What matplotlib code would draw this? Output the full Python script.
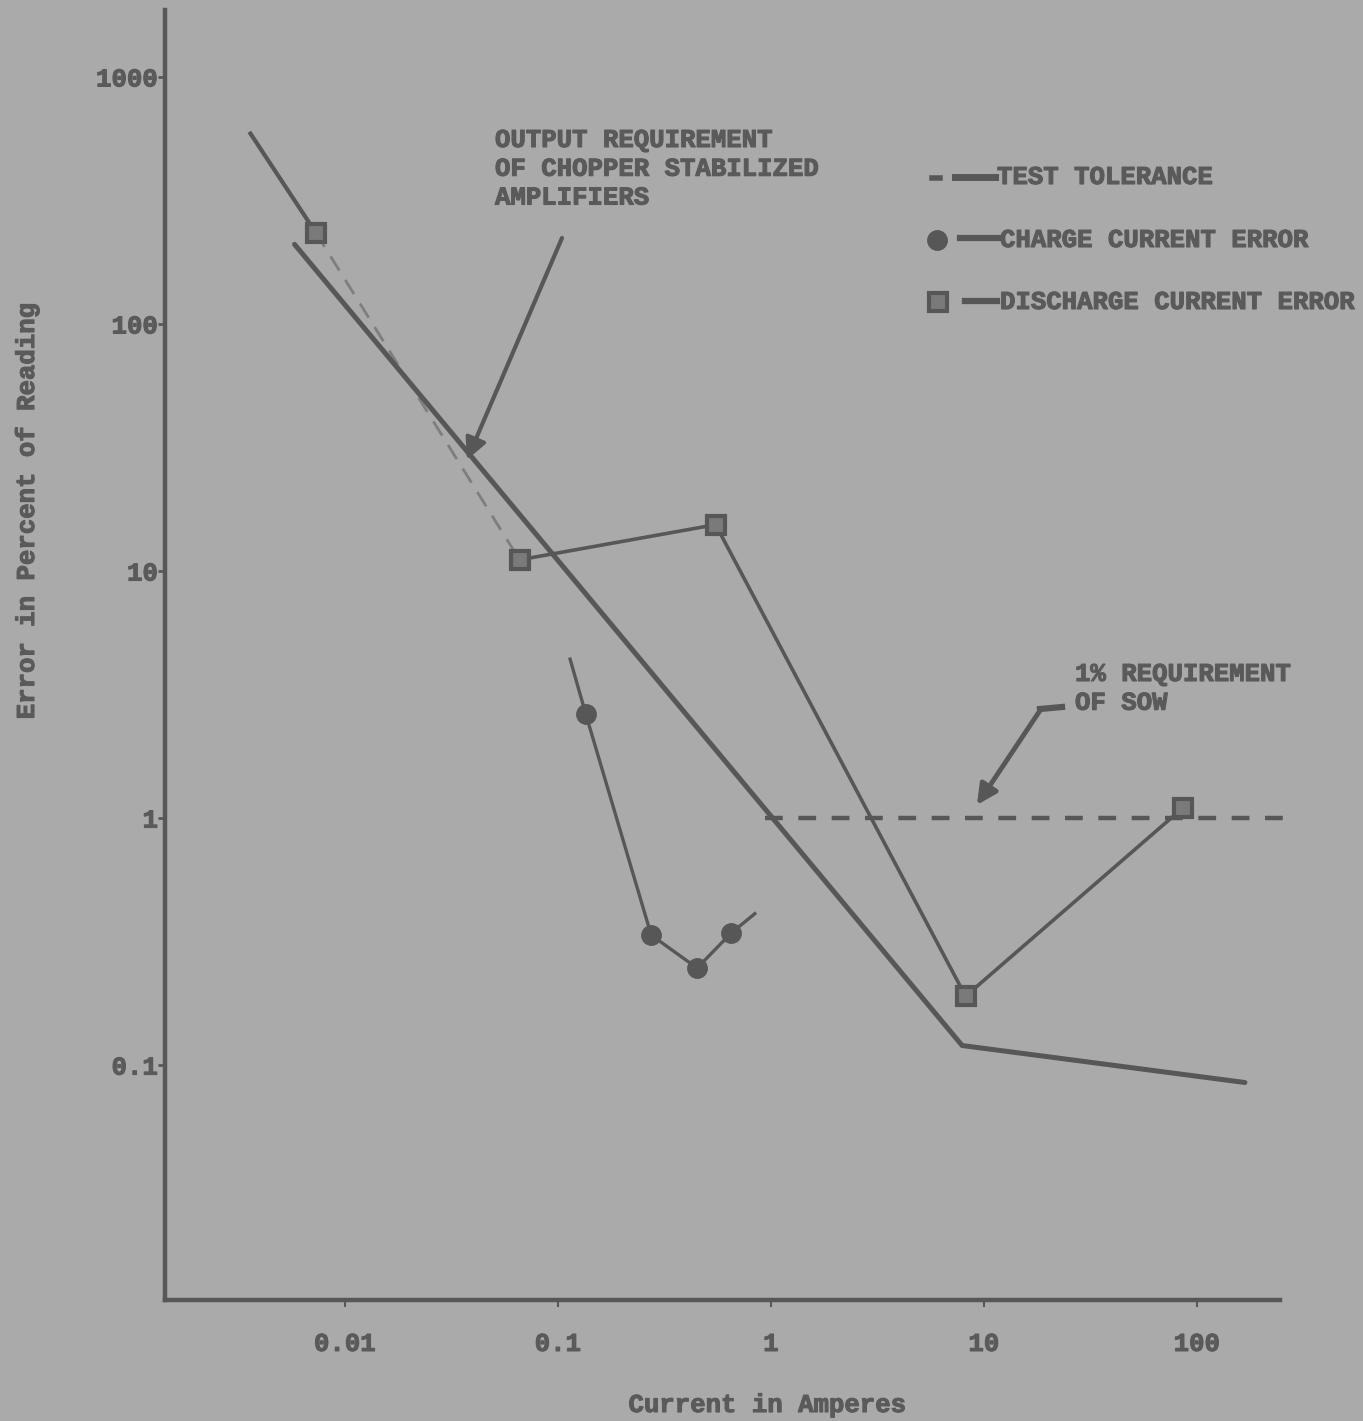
import matplotlib
matplotlib.use("Agg")
import matplotlib.pyplot as plt
from matplotlib.lines import Line2D
import matplotlib.patheffects as pe

# ---------------- data ----------------
tol_current = [0.0058, 7.9, 168]
tol_error = [210, 0.12, 0.085]

sow_current = [0.94, 290]
sow_error = [1.0, 1.0]

dis_current = [0.0036, 0.0073, 0.066, 0.55, 8.2, 86]
dis_error = [590, 234, 11.1, 15.4, 0.19, 1.1]

chg_current = [0.114, 0.135, 0.274, 0.45, 0.65, 0.84]
chg_error = [4.4, 2.64, 0.336, 0.247, 0.342, 0.41]
chg_marked = [1, 2, 3, 4]

x_ticks = [0.01, 0.1, 1, 10, 100]
x_tick_labels = ["0.01", "0.1", "1", "10", "100"]
y_ticks = [0.1, 1, 10, 100, 1000]
y_tick_labels = ["0.1", "1", "10", "100", "1000"]

chopper_arrow_tip = (0.0374, 28.2)
sow_arrow_tip = (9.27, 1.13)

# ---------------- style ----------------
W, H = 1363, 1421
BG = "#aaaaaa"
INK = "#575757"
TXT = "#5a5a5a"
FONT = ["Liberation Mono", "DejaVu Sans Mono"]
FS = 18.5
HEAVY = [pe.withStroke(linewidth=0.8, foreground=TXT)]

def fxp(px):
    return px / W

def fyp(py):
    return 1 - py / H

fig = plt.figure(figsize=(W / 100, H / 100), dpi=100, facecolor=BG)
ax = fig.add_axes([fxp(165), fyp(1300), fxp(1300) - fxp(165), fyp(10) - fyp(1300)])
ax.set_facecolor(BG)
ax.set_xscale("log")
ax.set_yscale("log")
ax.set_xlim(10 ** -2.845, 10 ** 2.484)
ax.set_ylim(10 ** -1.951, 10 ** 3.271)

for s in ["top", "right"]:
    ax.spines[s].set_visible(False)
for s in ["left", "bottom"]:
    ax.spines[s].set_color(INK)
    ax.spines[s].set_linewidth(3.2)
ax.spines["bottom"].set_bounds(10 ** -2.845, 245)

ax.set_xticks(x_ticks)
ax.set_xticklabels(x_tick_labels)
ax.set_yticks(y_ticks)
ax.set_yticklabels(y_tick_labels)
ax.minorticks_off()
ax.tick_params(axis="x", direction="out", length=5, width=1.5, color=INK, pad=18,
               labelsize=FS, labelcolor=TXT)
ax.tick_params(axis="y", direction="out", length=5, width=2, color=INK, pad=0,
               labelsize=FS, labelcolor=TXT)
for lab in ax.get_xticklabels() + ax.get_yticklabels():
    lab.set_family(FONT)
    lab.set_weight("bold")
    lab.set_path_effects(HEAVY)
for lab in ax.get_yticklabels():
    lab.set_va("center_baseline")

# ---------------- series ----------------
ax.plot(tol_current, tol_error, color=INK, lw=3.6, solid_capstyle="round", zorder=3)
ax.plot(sow_current, sow_error, color=INK, lw=3.2, ls=(0, (4, 3.5)), zorder=2)

sq_kw = dict(marker="s", markersize=13, markerfacecolor="#7a7a7a",
             markeredgecolor=INK, markeredgewidth=3)
# discharge: first stretch, faint middle stretch, then the rest
ax.plot(dis_current[0:2], dis_error[0:2], color=INK, lw=3.0, zorder=4)
ax.plot(dis_current[1:3], dis_error[1:3], color="#7e7e7e", lw=2.0,
        ls=(0, (6, 4)), zorder=2)
ax.plot(dis_current[2:], dis_error[2:], color=INK, lw=2.6, zorder=4)
ax.plot(dis_current[1:], dis_error[1:], ls="none", zorder=5, **sq_kw)

ax.plot(chg_current, chg_error, color=INK, lw=2.4, marker="o", markersize=14,
        markerfacecolor=INK, markeredgecolor=INK, markevery=chg_marked, zorder=4)

# ---------------- annotations ----------------
text_kw = dict(family=FONT, weight="bold", fontsize=FS, color=TXT, linespacing=1.25,
               path_effects=HEAVY)
fig.text(fxp(495), fyp(128), "OUTPUT REQUIREMENT\nOF CHOPPER STABILIZED\nAMPLIFIERS",
         ha="left", va="top", **text_kw)
ax.annotate("", xy=chopper_arrow_tip, xycoords="data",
            xytext=(fxp(562), fyp(238)), textcoords="figure fraction",
            arrowprops=dict(arrowstyle="-|>", lw=3, color=INK, mutation_scale=32,
                            shrinkA=0, shrinkB=0))

fig.text(fxp(1075), fyp(662), "1% REQUIREMENT\nOF SOW", ha="left", va="top", **text_kw)
fig.add_artist(Line2D([fxp(1040), fxp(1062)], [fyp(709), fyp(707)], color=INK, lw=4.5,
                      transform=fig.transFigure))
ax.annotate("", xy=sow_arrow_tip, xycoords="data",
            xytext=(fxp(1041), fyp(709)), textcoords="figure fraction",
            arrowprops=dict(arrowstyle="-|>", lw=3.5, color=INK, mutation_scale=30,
                            shrinkA=0, shrinkB=0))

# ---------------- legend (drawn by hand, like the original) ----------------
tf = fig.transFigure
fig.add_artist(Line2D([fxp(932), fxp(940)], [fyp(178), fyp(178)], color=INK, lw=4, transform=tf))
fig.add_artist(Line2D([fxp(955), fxp(995)], [fyp(177), fyp(177)], color=INK, lw=5, transform=tf))
fig.text(fxp(997), fyp(177), "TEST TOLERANCE", ha="left", va="center", **text_kw)

fig.add_artist(Line2D([fxp(937)], [fyp(240)], marker="o", markersize=14, color=INK,
                      markerfacecolor=INK, transform=tf))
fig.add_artist(Line2D([fxp(960), fxp(998)], [fyp(238), fyp(238)], color=INK, lw=4.5, transform=tf))
fig.text(fxp(1000), fyp(240), "CHARGE CURRENT ERROR", ha="left", va="center", **text_kw)

fig.add_artist(Line2D([fxp(938)], [fyp(302)], marker="s", markersize=13, color=INK,
                      markerfacecolor="#7a7a7a", markeredgewidth=3, transform=tf))
fig.add_artist(Line2D([fxp(965), fxp(997)], [fyp(301), fyp(301)], color=INK, lw=4.5, transform=tf))
fig.text(fxp(1000), fyp(302), "DISCHARGE CURRENT ERROR", ha="left", va="center", **text_kw)

# ---------------- axis titles ----------------
fig.text(fxp(27), fyp(510), "Error in Percent of Reading", rotation=90,
         ha="center", va="center", **text_kw)
fig.text(fxp(768), fyp(1405), "Current in Amperes", ha="center", va="center", **text_kw)

fig.savefig("out.png", dpi=100, facecolor=BG)
